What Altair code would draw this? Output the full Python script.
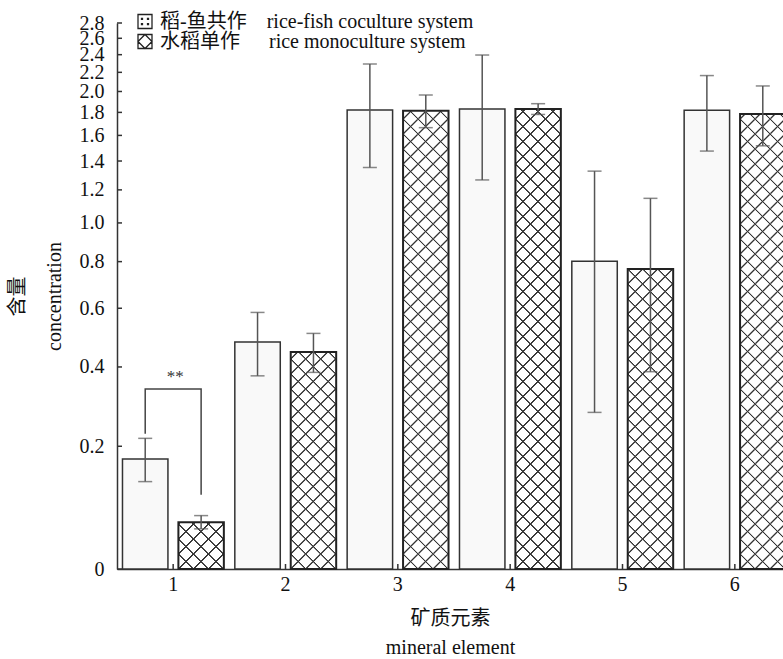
import altair as alt
import numpy as np
import pandas as pd

# ---------------- data ----------------
elements = [1, 2, 3, 4, 5, 6]
fish_mean = [0.174, 0.479, 1.823, 1.831, 0.802, 1.820]
fish_err = [0.043, 0.105, 0.470, 0.565, 0.525, 0.345]
mono_mean = [0.064, 0.446, 1.815, 1.831, 0.766, 1.786]
mono_err = [0.010, 0.062, 0.150, 0.050, 0.380, 0.270]
systems_cn = ["稻-鱼共作", "水稻单作"]
systems_en = ["rice-fish coculture system", "rice monoculture system"]
y_ticks = [0, 0.2, 0.4, 0.6, 0.8, 1.0, 1.2, 1.4, 1.6, 1.8, 2.0, 2.2, 2.4, 2.6, 2.8]
sig_element = [1, 1, 1, 1]
sig_levels = [0.227, 0.337, 0.337, 0.108]
sig_label = "**"
sig_label_y = 0.357

# ---------------- layout / style ----------------
FONT = "Liberation Serif, Noto Sans CJK SC"
W_VIEW, H_VIEW = 666, 546
X_RANGE = 674
C = 0.28
YMAX = 2.8
P_IN, P_OUT = 0.187, 0.098
NB = "\u00a0"

fish_label = systems_cn[0] + NB * 4 + systems_en[0]
mono_label = systems_cn[1] + NB * 5 + "\u2009" + systems_en[1]
sys_domain = [fish_label, mono_label]

rows = []
for i, e in enumerate(elements):
    rows.append(dict(element=e, system=fish_label, mean=fish_mean[i],
                     lo=fish_mean[i] - fish_err[i], hi=fish_mean[i] + fish_err[i]))
    rows.append(dict(element=e, system=mono_label, mean=mono_mean[i],
                     lo=mono_mean[i] - mono_err[i], hi=mono_mean[i] + mono_err[i]))
df = pd.DataFrame(rows)
df_fish = df[df.system == fish_label]
df_mono = df[df.system == mono_label]

df_ticks = pd.DataFrame({"t": y_ticks})
df_el = pd.DataFrame({"element": elements})
df_br = pd.DataFrame({"element": sig_element,
                      "system": [fish_label, fish_label, mono_label, mono_label],
                      "v": sig_levels, "step": [0, 1, 2, 3]})
df_sig = pd.DataFrame({"element": [sig_element[0]], "v": [sig_label_y], "s": [sig_label]})
df_leg = pd.DataFrame({"system": sys_domain})

# ---------------- crosshatch fills (style only) ----------------
step = (X_RANGE / len(elements)) / (2 - P_IN + 2 * P_OUT)
BW = step * (1 - P_IN)


def px_height(v):
    return H_VIEW * np.log1p(v / C) / np.log1p(YMAX / C)


def hatch(h, w, direction, line, bg, L=15.0):
    tot = w + h
    s = tot / (w * w + h * h)
    a, b = w * s, h * s
    if direction == 1:
        x1, y1, x2, y2 = 0, 0, a, b
        base = h
    else:
        x1, y1, x2, y2 = 0, 1, a, 1 - b
        base = 0.0
    core, soft = 0.55, 1.35
    stops = [{"offset": 0, "color": bg}]
    k0 = int(np.floor(-base / L)) - 1
    k1 = int(np.ceil((tot - base) / L)) + 1
    last = 0.0
    for k in range(k0, k1 + 1):
        c = base + k * L
        if c < -soft or c > tot + soft:
            continue
        for off, col in ((c - soft, bg), (c - core, line), (c + core, line), (c + soft, bg)):
            o = min(max(off / tot, last), 1.0)
            last = o
            stops.append({"offset": round(o, 5), "color": col})
    stops.append({"offset": 1, "color": bg})
    return {"gradient": "linear", "x1": x1, "y1": y1, "x2": round(x2, 5), "y2": round(y2, 5),
            "stops": stops}


LINE = "#333333"
conds1, conds2 = [], []
for e, m in zip(elements, mono_mean):
    h = float(px_height(m))
    conds1.append({"test": f"datum.element === {e}", "value": hatch(h, BW, 1, LINE, "#ffffff")})
    conds2.append({"test": f"datum.element === {e}", "value": hatch(h, BW, 2, LINE, "rgba(255,255,255,0)")})

# ---------------- encodings ----------------
x_axis = alt.Axis(labelAngle=0, ticks=False, tickSize=0, labelPadding=5,
                  labelFont=FONT, labelFontSize=20, labelColor="#111",
                  domainColor="#333", domainWidth=1.5,
                  title=["矿质元素", "mineral element"], titleFont=FONT, titleFontSize=20,
                  titleFontWeight="normal", titleColor="#111", titleX=333, titleY=55,
                  titleBaseline="alphabetic", titleAlign="center", titleLineHeight=29)
y_axis = alt.Axis(values=y_ticks, labelExpr="datum.value == 0 ? '0' : format(datum.value, '.1f')",
                  ticks=False, tickSize=0, labelPadding=13, labelOverlap=False,
                  labelFont=FONT, labelFontSize=20, labelColor="#111",
                  domainColor="#333", domainWidth=1.5, grid=False,
                  title=["含量", "concentration"], titleFont=FONT, titleFontSize=20,
                  titleFontWeight="normal", titleColor="#111", titleAngle=270,
                  titleX=-94, titleY=273, titleAlign="center", titleBaseline="alphabetic",
                  titleLineHeight=37)

x_scale = alt.Scale(range=[0, X_RANGE], paddingInner=0, paddingOuter=0)
y_scale = alt.Scale(type="symlog", constant=C, domain=[0, YMAX], nice=False, zero=True)


def X():
    return alt.X("element:O", scale=x_scale, axis=x_axis)


def XO():
    return alt.XOffset("system:N", scale=alt.Scale(domain=sys_domain, paddingInner=P_IN, paddingOuter=P_OUT))


def Y(field):
    return alt.Y(f"{field}:Q", scale=y_scale, axis=y_axis)


fish_bars = alt.Chart(df_fish).mark_bar(fill="#f9f9f9", stroke="#333", strokeWidth=1.5).encode(
    x=X(), xOffset=XO(), y=Y("mean"))

mono_a = alt.Chart(df_mono).mark_bar(strokeWidth=0).encode(
    x=X(), xOffset=XO(), y=Y("mean"), fill=alt.FillValue("white", condition=conds1))

mono_b = alt.Chart(df_mono).mark_bar(stroke="#222", strokeWidth=2).encode(
    x=X(), xOffset=XO(), y=Y("mean"), fill=alt.FillValue("transparent", condition=conds2))

err_rule = alt.Chart(df).mark_rule(color="#555", strokeWidth=1.5).encode(
    x=X(), xOffset=XO(), y=Y("lo"), y2="hi:Q")
cap_hi = alt.Chart(df).mark_tick(color="#555", thickness=1.5, size=14).encode(
    x=X(), xOffset=XO(), y=Y("hi"))
cap_lo = alt.Chart(df).mark_tick(color="#555", thickness=1.5, size=14).encode(
    x=X(), xOffset=XO(), y=Y("lo"))

bracket = alt.Chart(df_br).mark_line(color="#444", strokeWidth=1.5).encode(
    x=X(), xOffset=XO(), y=Y("v"), order="step:Q")
sig = alt.Chart(df_sig).mark_text(font=FONT, fontSize=17, baseline="alphabetic",
                                  align="center", dx=2, color="#333").encode(
    x=X(), y=Y("v"), text="s:N")

yticks = alt.Chart(df_ticks).mark_rule(color="#333", strokeWidth=1.5).encode(
    y=Y("t"), x=alt.value(0), x2=alt.value(5))
xticks = alt.Chart(df_el).mark_rule(color="#333", strokeWidth=1.5).encode(
    x=X(), y=alt.value(H_VIEW - 5), y2=alt.value(H_VIEW))

fish_sym = ("M-1,-1H1V1H-1Z M-0.5,-0.45h0.14v0.14h-0.14Z M0.36,-0.45h0.14v0.14h-0.14Z "
            "M-0.5,0.31h0.14v0.14h-0.14Z M0.36,0.31h0.14v0.14h-0.14Z")
mono_sym = "M-1,-1H1V1H-1Z M0,-1L1,0L0,1L-1,0Z"
legend_layer = alt.Chart(df_leg).mark_point(opacity=0).encode(
    shape=alt.Shape("system:N", scale=alt.Scale(domain=sys_domain, range=[fish_sym, mono_sym]),
                    legend=alt.Legend(title=None, orient="none", legendX=18, legendY=-11.5,
                                      symbolSize=196, symbolStrokeWidth=1.3,
                                      symbolStrokeColor="#222", symbolFillColor="white",
                                      symbolOpacity=1, labelFont=FONT, labelFontSize=20,
                                      labelColor="#111", labelOffset=5, labelLimit=600,
                                      rowPadding=0, padding=0)))

chart = alt.layer(fish_bars, mono_a, mono_b, err_rule, cap_hi, cap_lo, bracket, sig,
                  yticks, xticks, legend_layer).properties(
    width=W_VIEW, height=H_VIEW,
    autosize=alt.AutoSizeParams(type="none"),
    padding={"left": 117, "top": 23, "right": 0, "bottom": 90},
    background="white",
).configure_view(stroke=None)

chart.save("out.html", embed_options={"renderer": "svg", "actions": False})
